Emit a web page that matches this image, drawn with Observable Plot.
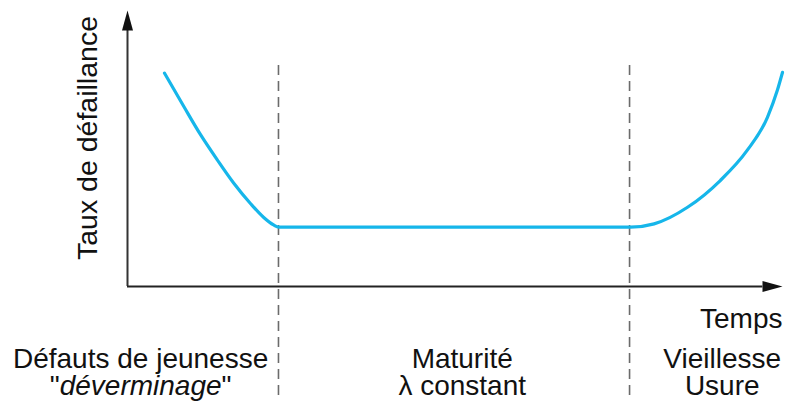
<!DOCTYPE html>
<html>
<head>
<meta charset="utf-8">
<script src="https://cdn.jsdelivr.net/npm/d3@7"></script>
<script src="https://cdn.jsdelivr.net/npm/@observablehq/plot@0.6"></script>
<style>
  html, body { margin: 0; padding: 0; background: #fff; }
  #chart svg { display: block; }
</style>
</head>
<body>
<div id="chart"></div>
<script>
// Bathtub curve: time (0-100) vs failure rate (0-100)
const curveTime = [5.65, 8.6, 11.15, 13.7, 16.2, 18.8, 20.8, 22.3, 23.1, 76.6, 76.8, 80.4, 85.5, 90.5, 94.6, 97.7, 99.2, 100];
const curveRate = [77.3, 65.2, 55.0, 45.9, 37.5, 30.0, 25.0, 22.3, 21.5, 21.5, 21.5, 22.7, 28.7, 38.4, 49.3, 61.3, 71.0, 77.6];

// Phase boundaries (dashed lines)
const phaseBounds = [23.05, 76.65];

// Phase labels
const phaseLine1 = ["Défauts de jeunesse", "Maturité", "Vieillesse"];
const phaseLine2 = ["\"déverminage\"", "λ constant", "Usure"];
const phaseLabelX = [2.0, 51.1, 90.8];

const yLabel = "Taux de défaillance";
const xLabel = "Temps";

const curve = curveTime.map((t, i) => ({t, r: curveRate[i]}));
const labels = phaseLine1.map((s, i) => ({x: phaseLabelX[i], text: s + "\n" + phaseLine2[i]}));

const arrowUp = {draw(ctx) { ctx.moveTo(0, 0); ctx.lineTo(-5.5, 20); ctx.lineTo(5.5, 20); ctx.closePath(); }};
const arrowRight = {draw(ctx) { ctx.moveTo(0, 0); ctx.lineTo(-20, -5.5); ctx.lineTo(-20, 5.5); ctx.closePath(); }};

const font = "'Liberation Sans', Arial, Helvetica, sans-serif";

const plot = Plot.plot({
  width: 787,
  height: 401,
  marginLeft: 127,
  marginRight: 5,
  marginTop: 10,
  marginBottom: 115,
  style: {fontFamily: font, background: "#fff", overflow: "visible"},
  x: {domain: [0, 100], axis: null},
  y: {domain: [0, 100], axis: null},
  marks: [
    // dashed phase boundaries (extend below axis)
    Plot.ruleX(phaseBounds, {y1: 80.1, y2: -41.7, stroke: "#6b6b6b", strokeWidth: 1.6, strokeDasharray: "10,6", clip: false}),
    // axes
    Plot.ruleX([0], {y1: 0, y2: 96, stroke: "#333", strokeWidth: 2}),
    Plot.ruleY([0], {x1: 0, x2: 97, stroke: "#222", strokeWidth: 2}),
    Plot.dot([{x: 0, y: 100}], {x: "x", y: "y", symbol: arrowUp, fill: "#111", stroke: "none", r: 5}),
    Plot.dot([{x: 100, y: 0}], {x: "x", y: "y", symbol: arrowRight, fill: "#111", stroke: "none", r: 5}),
    // bathtub curve
    Plot.line(curve, {x: "t", y: "r", curve: "monotone-x", stroke: "#16b6ea", strokeWidth: 3.2}),
    // axis labels
    Plot.text([yLabel], {x: -4.6, y: 53.8, text: d => d, rotate: -90, textAnchor: "middle", lineAnchor: "bottom", fontSize: 28.5, fill: "#111", clip: false}),
    Plot.text([xLabel], {x: 100, y: -15.2, text: d => d, textAnchor: "end", lineAnchor: "bottom", fontSize: 28, fill: "#111", clip: false}),
    // phase labels (two lines each)
    Plot.text(labels, {x: "x", y: -39.4, text: "text", textAnchor: "middle", lineAnchor: "bottom", lineHeight: 0.98, fontSize: 28, fill: "#111", clip: false})
  ]
});

document.getElementById("chart").appendChild(plot);

// italicise the word inside the quotes
d3.select(plot).selectAll("tspan").each(function() {
  const el = d3.select(this);
  if (el.text() === "\"déverminage\"") {
    el.text(null);
    el.append("tspan").text("\"");
    el.append("tspan").attr("font-style", "italic").text("déverminage");
    el.append("tspan").text("\"");
  }
});
</script>
</body>
</html>
